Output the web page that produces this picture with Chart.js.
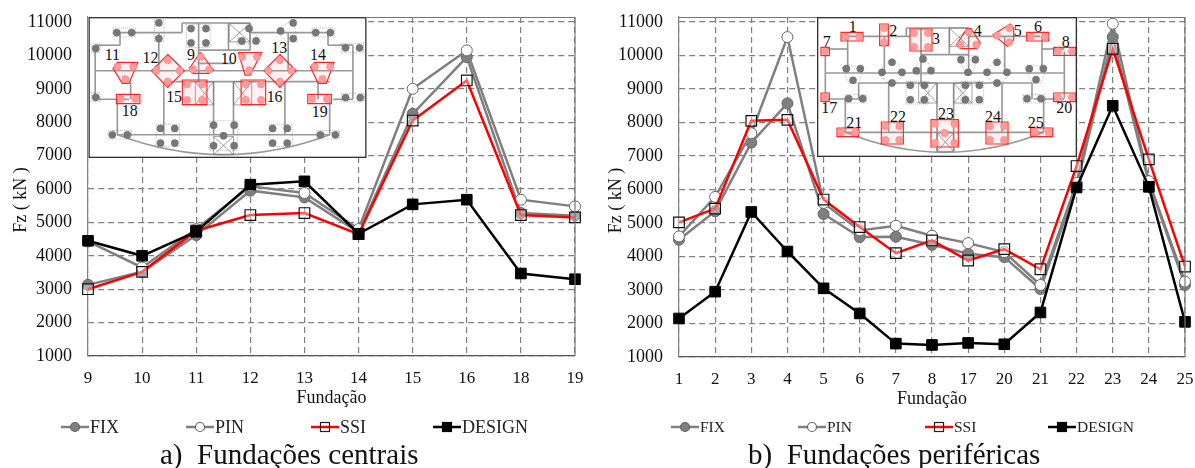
<!DOCTYPE html>
<html>
<head>
<meta charset="utf-8">
<title>Fundações</title>
<script src="https://cdn.jsdelivr.net/npm/chart.js@4/dist/chart.umd.min.js"></script>
<style>
    html, body { margin: 0; padding: 0; background: #fff; overflow: hidden; }
    #page { position: relative; width: 1195px; height: 468px; overflow: hidden; font-family: "Liberation Serif", serif; }
    #chartA, #chartB { position: absolute; top: -20px; }
    svg { position: absolute; background: #fff; }
    .caption { position: absolute; top: 437px; font-size: 29px; line-height: 34px; white-space: pre; color: #111; }
    .key { position: absolute; color: #222; white-space: pre; line-height: 20px; height: 20px; }
    .key canvas { position: absolute; left: 0; top: 3px; }
</style>
</head>
<body>
<div id="page">
    <canvas id="chartA" width="597" height="488" style="left:0"></canvas>
    <canvas id="chartB" width="620" height="488" style="left:597px"></canvas>
    <svg id="insetA" style="left:88px;top:17px" width="279" height="141" viewBox="263 50 838 425"></svg>
    <svg id="insetB" style="left:817px;top:17px" width="260" height="140" viewBox="650 52 780 420"></svg>
    <div id="legendA"></div>
    <div id="legendB"></div>
    <div class="caption" style="left:160px">a)  Fundações centrais</div>
    <div class="caption" style="left:748px">b)  Fundações periféricas</div>
</div>
<script>
// central foundations
var categoriesA = ['9', '10', '11', '12', '13', '14', '15', '16', '18', '19'];
var fixA = [3130, 3520, 4620, 5950, 5750, 4700, 8250, 9950, 5280, 5200];
var pinA = [4430, 3650, 4800, 6080, 5880, 4800, 9000, 10150, 5680, 5480];
var ssiA = [3000, 3520, 4750, 5220, 5280, 4650, 8050, 9250, 5220, 5150];
var designA = [4450, 4000, 4720, 6130, 6230, 4660, 5540, 5680, 3470, 3300];

// peripheral foundations
var categoriesB = ['1', '2', '3', '4', '5', '6', '7', '8', '17', '20', '21', '22', '23', '24', '25'];
var fixB = [4500, 5350, 7400, 8570, 5270, 4580, 4590, 4350, 4080, 3980, 3030, 6100, 10550, 6200, 3150];
var pinB = [4600, 5780, 7680, 10550, 5600, 4780, 4920, 4620, 4400, 4130, 3150, 6200, 10950, 6250, 3250];
var ssiB = [5020, 5430, 8050, 8080, 5700, 4880, 4100, 4480, 3880, 4220, 3620, 6700, 10200, 6900, 3700];
var designB = [2150, 2950, 5330, 4150, 3050, 2300, 1400, 1360, 1420, 1380, 2330, 6060, 8500, 6080, 2050];

var yTicks = [1000, 2000, 3000, 4000, 5000, 6000, 7000, 8000, 9000, 10000, 11000];

Chart.defaults.font.family = '"Liberation Serif", serif';
Chart.defaults.color = '#111';

// legend key: short line with the marker on top
function legendKey(lineColor, lineWidth, style, fill, stroke) {
    var c = document.createElement('canvas');
    c.width = 28;
    c.height = 14;
    var g = c.getContext('2d');
    g.strokeStyle = lineColor;
    g.lineWidth = lineWidth;
    g.beginPath();
    g.moveTo(0, 7);
    g.lineTo(28, 7);
    g.stroke();
    g.fillStyle = fill;
    g.strokeStyle = stroke;
    g.lineWidth = 1.2;
    if (style == 'circle') {
        g.beginPath();
        g.arc(14, 7, 4.5, 0, Math.PI * 2);
        g.fill();
        g.stroke();
    } else {
        g.fillRect(9.5, 2.5, 9, 9);
        g.strokeRect(9.5, 2.5, 9, 9);
    }
    return c;
}

// solid top and right edges of the plot
var frameLines = {
    id: 'frameLines',
    afterDraw: function(chart) {
        var a = chart.chartArea, g = chart.ctx;
        g.save();
        g.strokeStyle = '#777';
        g.lineWidth = 1.2;
        g.beginPath();
        g.moveTo(a.left, a.top + 0.5);
        g.lineTo(a.right, a.top + 0.5);
        g.lineTo(a.right, a.bottom);
        g.stroke();
        g.restore();
    }
};

function createChart(id, labels, fix, pin, ssi, design, o) {
    return new Chart(document.getElementById(id), {
        type: 'line',
        plugins: [frameLines],
        data: {
            labels: labels,
            datasets: [{
                label: 'FIX',
                data: fix,
                borderColor: '#7f7f7f',
                borderWidth: 2.5,
                pointStyle: 'circle',
                pointRadius: 5.5,
                pointBackgroundColor: '#7f7f7f',
                pointBorderColor: '#666',
                pointBorderWidth: 1,
                order: 3
            }, {
                label: 'PIN',
                data: pin,
                borderColor: '#7f7f7f',
                borderWidth: 2.5,
                pointStyle: 'circle',
                pointRadius: 5.5,
                pointBackgroundColor: '#fff',
                pointBorderColor: '#666',
                pointBorderWidth: 1,
                order: 2
            }, {
                label: 'SSI',
                data: ssi,
                borderColor: '#ff0000',
                borderWidth: 2.5,
                pointStyle: 'rect',
                pointRadius: 7.5,
                pointBackgroundColor: 'rgba(255,255,255,0.35)',
                pointBorderColor: '#111',
                pointBorderWidth: 1.2,
                order: 1
            }, {
                label: 'DESIGN',
                data: design,
                borderColor: '#000',
                borderWidth: 2.5,
                pointStyle: 'rect',
                pointRadius: 7.5,
                pointBackgroundColor: '#000',
                pointBorderColor: '#000',
                pointBorderWidth: 1,
                order: 0
            }]
        },
        options: {
            responsive: false,
            animation: false,
            layout: { padding: { left: o.padLeft, right: o.padRight, top: 37, bottom: o.padBottom } },
            plugins: {
                tooltip: { enabled: false },
                title: { display: false },
                legend: { display: false }
            },
            scales: {
                x: {
                    offset: false,
                    grid: { color: '#808080', drawTicks: false, lineWidth: 1.2 },
                    border: { color: '#555', dash: [6, 4], width: 1.2 },
                    ticks: { autoSkip: false, maxRotation: 0, padding: 12, font: { size: 17 } },
                    title: { display: true, text: 'Fundação', font: { size: 18 }, padding: { top: 0, bottom: 0 } },
                    afterFit: function(s) { s.height = 53; }
                },
                y: {
                    min: 1000,
                    max: 11150,
                    grid: { color: '#808080', drawTicks: false, lineWidth: 1.2 },
                    border: { color: '#808080', dash: [6, 4], width: 1.2 },
                    afterBuildTicks: function(s) {
                        s.ticks = yTicks.map(function(v) { return { value: v }; });
                    },
                    ticks: {
                        autoSkip: false,
                        padding: 16,
                        font: { size: 18 },
                        callback: function(v) { return String(v); }
                    },
                    // trailing spaces push the centred title down the axis, as in the picture
                    title: { display: true, text: 'Fz ( kN )      ', font: { size: 18 }, padding: { top: 0, bottom: 0 } },
                    afterFit: function(s) { s.width = o.yWidth; }
                }
            }
        }
    });
}

createChart('chartA', categoriesA, fixA, pinA, ssiA, designA, { padLeft: 10, padRight: 22, padBottom: 59, yWidth: 78 });
createChart('chartB', categoriesB, fixB, pinB, ssiB, designB, { padLeft: 8, padRight: 32, padBottom: 58, yWidth: 74 });

// html legends, the gaps do not fit the built in legend box
function htmlLegend(id, size, items) {
    var host = document.getElementById(id);
    items.forEach(function(it) {
        var d = document.createElement('div');
        d.className = 'key';
        d.style.left = it.left + 'px';
        d.style.top = '417px';
        d.style.fontSize = size + 'px';
        d.style.paddingLeft = '29px';
        d.textContent = it.text;
        d.appendChild(it.key);
        host.appendChild(d);
    });
}
function keys() {
    return [
        legendKey('#7f7f7f', 2.5, 'circle', '#7f7f7f', '#666'),
        legendKey('#7f7f7f', 2.5, 'circle', '#fff', '#666'),
        legendKey('#ff0000', 2.5, 'rect', 'rgba(255,255,255,0)', '#222'),
        legendKey('#000', 2.5, 'rect', '#000', '#000')
    ];
}
var keysA = keys(), keysB = keys();
htmlLegend('legendA', 18, [
    { text: 'FIX', left: 61, key: keysA[0] },
    { text: 'PIN', left: 186, key: keysA[1] },
    { text: 'SSI', left: 311, key: keysA[2] },
    { text: 'DESIGN', left: 433, key: keysA[3] }
]);
htmlLegend('legendB', 15.5, [
    { text: 'FIX', left: 671, key: keysB[0] },
    { text: 'PIN', left: 798, key: keysB[1] },
    { text: 'SSI', left: 925, key: keysB[2] },
    { text: 'DESIGN', left: 1048, key: keysB[3] }
]);

// inset plans, in the picture's own plan coordinates
function addSvg(svg, tag, attrs, text) {
    var el = document.createElementNS('http://www.w3.org/2000/svg', tag);
    Object.keys(attrs).forEach(function(k) { el.setAttribute(k, attrs[k]); });
    if (text) el.textContent = text;
    svg.appendChild(el);
    return el;
}
function walls(svg, list) {
    list.forEach(function(w) {
        addSvg(svg, 'line', { x1: w[0], y1: w[1], x2: w[2], y2: w[3], stroke: '#999', 'stroke-width': 5 });
    });
}
function xBoxes(svg, list) {
    list.forEach(function(b) {
        addSvg(svg, 'path', { d: 'M' + b[0] + ' ' + b[1] + 'H' + b[2] + 'V' + b[3] + 'H' + b[0] + 'ZL' + b[2] + ' ' + b[3] + 'M' + b[2] + ' ' + b[1] + 'L' + b[0] + ' ' + b[3], fill: 'none', stroke: '#777', 'stroke-width': 2 });
    });
}
function outline(svg, pts, red) {
    var p = pts.length == 4 && !Array.isArray(pts[0])
        ? [[pts[0], pts[1]], [pts[2], pts[1]], [pts[2], pts[3]], [pts[0], pts[3]]]
        : pts;
    addSvg(svg, 'polygon', {
        points: p.map(function(q) { return q.join(','); }).join(' '),
        fill: red ? 'rgba(255,120,120,0.1)' : 'none',
        stroke: red ? '#f22' : '#777',
        'stroke-width': red ? 3.5 : 1.5,
        'stroke-dasharray': red ? 'none' : '3 3'
    });
}
function piles(svg, list, red) {
    list.forEach(function(d) {
        addSvg(svg, 'circle', { cx: d[0], cy: d[1], r: 11, fill: red ? '#ff9a9a' : '#777', stroke: red ? '#f66' : '#666', 'stroke-width': 1 });
    });
}
function foundations(svg, list, red) {
    list.forEach(function(f) {
        outline(svg, f[0], red);
        piles(svg, f[1], red);
    });
}
function numbers(svg, list) {
    list.forEach(function(n) {
        addSvg(svg, 'text', { x: n[1], y: n[2] + 16, 'text-anchor': 'middle', 'font-size': 48, fill: '#111', 'font-family': 'Liberation Serif' }, n[0]);
    });
}
function border(svg, box) {
    addSvg(svg, 'rect', { x: box[0] + 2, y: box[1] + 2, width: box[2] - 4, height: box[3] - 4, fill: 'none', stroke: '#333', 'stroke-width': 4 });
}

var svgA = document.getElementById('insetA');
walls(svgA, [[348, 97, 545, 97], [750, 97, 990, 97], [545, 68, 750, 68], [283, 212, 1060, 212], [490, 245, 990, 245],
    [283, 298, 385, 298], [1000, 298, 1060, 298], [350, 405, 990, 405], [350, 298, 350, 405], [490, 245, 490, 405],
    [640, 245, 640, 405], [700, 245, 700, 405], [855, 245, 855, 405], [990, 298, 990, 405], [283, 135, 283, 298],
    [283, 135, 358, 135], [358, 97, 358, 135], [865, 97, 865, 212], [475, 97, 475, 212], [985, 135, 1060, 135],
    [985, 97, 985, 135], [1060, 135, 1060, 298], [545, 68, 545, 97], [750, 68, 750, 150], [595, 68, 595, 245], [595, 150, 750, 150], [685, 68, 685, 150],
    [595, 190, 700, 190], [390, 245, 390, 298], [955, 245, 955, 298]]);
addSvg(svgA, 'path', { d: 'M350 405Q670 525 990 405', fill: 'none', stroke: '#999', 'stroke-width': 5 });
xBoxes(svgA, [[687, 70, 750, 125], [585, 245, 640, 315], [700, 245, 755, 315], [640, 410, 700, 465]]);
foundations(svgA, [
    [[337, 83, 405, 110], [[348, 97], [393, 97]]],
    [[462, 58, 490, 125], [[475, 68], [475, 115]]],
    [[272, 130, 298, 158], [[285, 145]]],
    [[272, 278, 298, 305], [[285, 292]]],
    [[1025, 130, 1092, 158], [[1038, 143], [1080, 143]]],
    [[1025, 280, 1095, 306], [[1038, 293], [1082, 293]]],
    [[937, 83, 1005, 110], [[948, 97], [992, 97]]],
    [[322, 392, 392, 418], [[335, 405], [380, 405]]],
    [[950, 392, 1020, 418], [[962, 405], [1007, 405]]],
    [[467, 373, 537, 440], [[480, 386], [523, 386], [480, 430], [523, 430]]],
    [[807, 373, 877, 440], [[818, 386], [862, 386], [818, 430], [862, 430]]],
    [[628, 363, 712, 452], [[640, 376], [702, 376], [640, 438], [702, 438], [670, 408]]],
    [[558, 72, 630, 142], [[572, 85], [617, 85], [572, 128], [617, 128]]],
    [[[745, 70], [782, 125], [712, 135], [712, 100]], [[725, 122], [768, 122], [747, 85]]],
    [[[830, 90], [880, 57], [893, 125], [860, 125]], [[880, 68], [880, 115], [842, 92]]]
], false);
foundations(svgA, [
    [[[350, 187], [412, 187], [385, 250], [365, 250], [337, 205]], [[350, 200], [398, 200], [374, 237]]],
    [[[502, 163], [552, 212], [502, 262], [453, 212]], [[502, 180], [467, 212], [538, 212], [502, 245]]],
    [[[600, 157], [640, 210], [625, 220], [578, 220], [567, 205]], [[602, 170], [578, 208], [627, 208]]],
    [[[715, 157], [785, 157], [750, 225], [735, 225]], [[726, 170], [771, 170], [748, 210]]],
    [[[840, 163], [889, 212], [840, 262], [792, 212]], [[840, 180], [805, 212], [875, 212], [840, 245]]],
    [[[945, 187], [1003, 187], [980, 250], [955, 250], [932, 200]], [[945, 200], [992, 200], [968, 237]]],
    [[546, 240, 620, 314], [[560, 253], [606, 253], [560, 300], [606, 300]]],
    [[723, 240, 797, 314], [[737, 253], [783, 253], [737, 300], [783, 300]]],
    [[347, 283, 418, 311], [[360, 297], [405, 297]]],
    [[924, 283, 995, 311], [[937, 297], [982, 297]]]
], true);
numbers(svgA, [['11', 335, 165], ['12', 450, 172], ['9', 572, 165], ['10', 686, 176], ['13', 838, 143], ['14', 955, 164],
    ['15', 521, 291], ['16', 824, 291], ['18', 387, 332], ['19', 960, 335]]);
border(svgA, [263, 50, 838, 425]);

var svgB = document.getElementById('insetB');
walls(svgB, [[740, 110, 930, 110], [1105, 110, 1320, 110], [918, 85, 1105, 85], [675, 220, 1392, 220], [775, 250, 1295, 250],
    [675, 298, 775, 298], [1300, 298, 1392, 298], [735, 398, 1330, 398], [675, 155, 675, 298], [742, 110, 742, 220],
    [675, 148, 742, 148], [852, 110, 852, 220], [962, 85, 962, 250], [1047, 85, 1047, 165], [1105, 85, 1105, 220],
    [1213, 110, 1213, 220], [1325, 110, 1325, 220], [1325, 148, 1392, 148], [1392, 155, 1392, 295], [775, 250, 775, 300],
    [735, 300, 735, 398], [865, 250, 865, 398], [1010, 250, 1010, 455], [1060, 250, 1060, 455], [1205, 250, 1205, 398],
    [1295, 250, 1295, 298], [1330, 298, 1330, 398], [962, 165, 1105, 165], [918, 85, 918, 110]]);
addSvg(svgB, 'path', { d: 'M735 398Q1033 518 1330 398', fill: 'none', stroke: '#999', 'stroke-width': 5 });
xBoxes(svgB, [[1047, 85, 1105, 140], [955, 250, 1010, 310], [1060, 250, 1115, 310], [1010, 400, 1060, 455]]);
foundations(svgB, [
    [[[725, 205], [745, 195], [790, 205], [775, 250], [745, 250]], [[738, 207], [780, 207], [758, 242]]],
    [[[875, 175], [917, 220], [875, 262], [833, 220]], [[875, 188], [845, 218], [905, 218], [875, 250]]],
    [[[968, 165], [990, 200], [980, 225], [950, 225], [938, 215]], [[968, 178], [948, 213], [992, 213]]],
    [[[1075, 168], [1135, 168], [1115, 225], [1095, 225]], [[1082, 180], [1125, 180], [1103, 218]]],
    [[[1190, 175], [1232, 220], [1190, 262], [1148, 220]], [[1190, 188], [1160, 218], [1220, 218], [1190, 250]]],
    [[[1275, 205], [1295, 195], [1340, 205], [1320, 250], [1295, 250]], [[1287, 207], [1329, 207], [1307, 240]]],
    [[917, 245, 985, 313], [[930, 257], [972, 257], [930, 300], [972, 300]]],
    [[1082, 245, 1150, 313], [[1095, 257], [1137, 257], [1095, 300], [1137, 300]]],
    [[733, 285, 798, 310], [[745, 297], [787, 297]]],
    [[1268, 285, 1335, 310], [[1280, 297], [1322, 297]]]
], false);
foundations(svgB, [
    [[722, 98, 788, 124], [[735, 111], [777, 111]]],
    [[838, 73, 864, 138], [[851, 85], [851, 128]]],
    [[929, 88, 995, 154], [[941, 100], [983, 100], [941, 142], [983, 142]]],
    [[[1100, 87], [1112, 87], [1140, 130], [1130, 147], [1080, 147], [1068, 135]], [[1105, 98], [1080, 135], [1128, 135]]],
    [[[1178, 105], [1230, 73], [1240, 85], [1240, 120], [1222, 140]], [[1190, 108], [1227, 85], [1227, 128]]],
    [[1279, 98, 1345, 124], [[1292, 111], [1334, 111]]],
    [[662, 143, 687, 168], [[675, 155]]],
    [[1360, 143, 1426, 167], [[1373, 155], [1415, 155]]],
    [[662, 280, 687, 305], [[675, 292]]],
    [[1360, 280, 1426, 306], [[1373, 293], [1415, 293]]],
    [[710, 385, 775, 411], [[722, 398], [765, 398]]],
    [[843, 367, 909, 433], [[855, 380], [897, 380], [855, 421], [897, 421]]],
    [[992, 360, 1074, 442], [[1004, 372], [1062, 372], [1004, 430], [1062, 430], [1033, 400]]],
    [[1157, 367, 1223, 433], [[1169, 380], [1211, 380], [1169, 421], [1211, 421]]],
    [[1291, 385, 1357, 411], [[1303, 398], [1345, 398]]]
], true);
numbers(svgB, [['1', 757, 82], ['2', 879, 93], ['3', 1007, 118], ['4', 1132, 93], ['5', 1252, 93], ['6', 1313, 80], ['7', 679, 127],
    ['8', 1396, 125], ['17', 687, 325], ['20', 1392, 325], ['21', 762, 370], ['22', 893, 350], ['23', 1037, 342], ['24', 1178, 350], ['25', 1306, 368]]);
border(svgB, [650, 52, 780, 420]);
</script>
</body>
</html>
